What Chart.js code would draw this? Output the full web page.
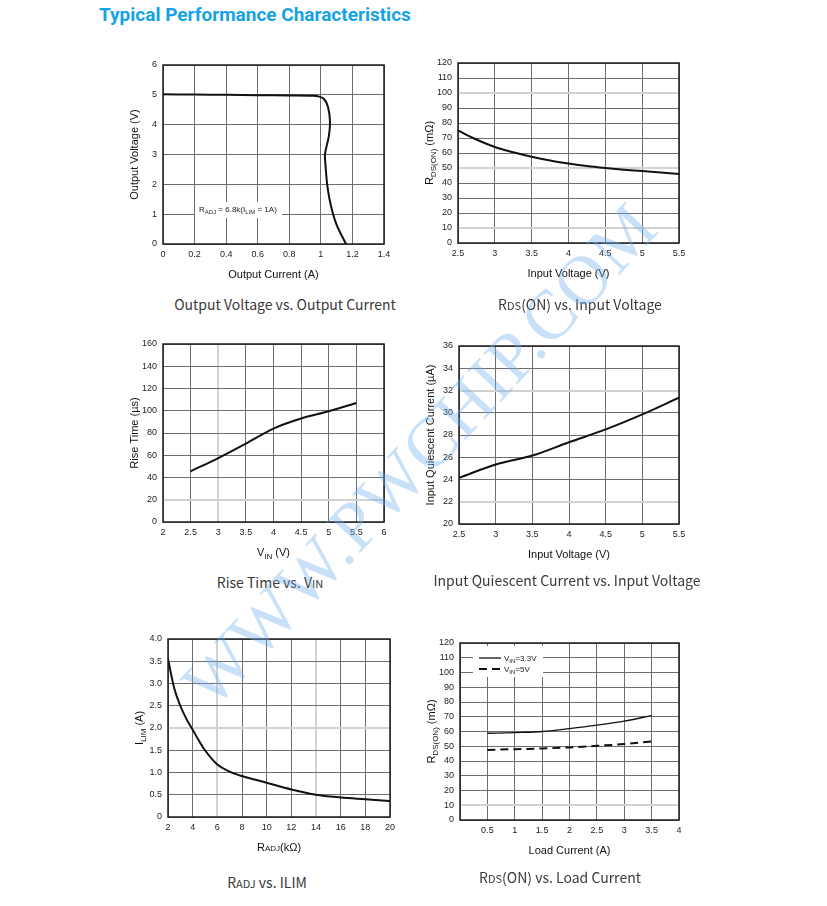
<!DOCTYPE html>
<html>
<head>
<meta charset="utf-8">
<script src="https://cdn.jsdelivr.net/npm/chart.js@4.4.1/dist/chart.umd.min.js"></script>
<style>
  body { margin: 0; background: #fff; width: 827px; height: 906px; position: relative; overflow: hidden; }
  canvas { position: absolute; }
  #title { position: absolute; left: 99px; top: 3px; font: bold 19px Roboto, "Noto Sans", sans-serif; color: #16a2e6; white-space: nowrap; }
  .cap { position: absolute; transform: translateX(-50%); white-space: nowrap; font: 14px/20px "Noto Sans CJK SC", "Noto Sans", sans-serif; color: #3a3a3a; }
  .cap small { font-size: 11px; }
  #wm { position: absolute; left: 420px; top: 455px; transform: translate(-50%, -50%) rotate(-47deg); font: 70px "Liberation Serif", serif; color: rgba(110, 175, 240, 0.38); white-space: nowrap; letter-spacing: 1px; pointer-events: none; }
</style>
</head>
<body>
<div id="title">Typical Performance Characteristics</div>

<canvas id="c1"></canvas>
<canvas id="c2"></canvas>
<canvas id="c3"></canvas>
<canvas id="c4"></canvas>
<canvas id="c5"></canvas>
<canvas id="c6"></canvas>

<div class="cap" style="left:285px;top:294px">Output Voltage vs. Output Current</div>
<div class="cap" style="left:580px;top:294px">R<small>DS</small>(ON) vs. Input Voltage</div>
<div class="cap" style="left:270px;top:572px">Rise Time vs. V<small>IN</small></div>
<div class="cap" style="left:567px;top:570px">Input Quiescent Current vs. Input Voltage</div>
<div class="cap" style="left:267px;top:872px">R<small>ADJ</small> vs. ILIM</div>
<div class="cap" style="left:560px;top:867px">R<small>DS</small>(ON) vs. Load Current</div>

<div id="wm">WWW.PWCHIP.COM</div>

<script>
// Output Voltage vs. Output Current (curve folds back, so x/y pairs)
var outCurrent = [0, 0.2, 0.4, 0.6, 0.8, 0.95, 0.99, 1.02, 1.045, 1.058, 1.05, 1.035, 1.026, 1.03, 1.04, 1.055, 1.075, 1.1, 1.13, 1.16];
var outVoltage = [5.02, 5.01, 5.0, 4.99, 4.98, 4.97, 4.94, 4.86, 4.6, 4.1, 3.6, 3.25, 3.0, 2.6, 2.0, 1.5, 1.05, 0.64, 0.3, 0.0];

// RDS(ON) vs. Input Voltage
var rdsVin = [2.5, 2.75, 3, 3.25, 3.5, 3.75, 4, 4.25, 4.5, 4.75, 5, 5.25, 5.5];
var rdsVinOhm = [75, 69, 64, 60.5, 57.5, 55, 53, 51.3, 50, 48.9, 48, 47, 46];

// Rise Time vs. VIN
var riseVin = [2.5, 3, 3.5, 4, 4.5, 5, 5.5];
var riseTime = [45.5, 57.5, 70.5, 84, 93, 99.5, 107];

// Input Quiescent Current vs. Input Voltage
var iqVin = [2.5, 3, 3.5, 4, 4.5, 5, 5.5];
var iqCurrent = [24.15, 25.35, 26.15, 27.35, 28.5, 29.85, 31.35];

// RADJ vs. ILIM
var radj = [2, 2.5, 3, 3.5, 4, 4.5, 5, 6, 7, 8, 10, 12, 14, 16, 18, 20];
var ilim = [3.55, 2.9, 2.5, 2.2, 1.96, 1.72, 1.5, 1.18, 1.02, 0.92, 0.77, 0.62, 0.5, 0.44, 0.4, 0.36];

// RDS(ON) vs. Load Current
var loadCurrent = [0.5, 1, 1.5, 2, 2.5, 3, 3.5];
var rdsVin33 = [58.8, 59.3, 60, 62, 64.3, 67, 70.8];
var rdsVin5 = [47.5, 48, 48.5, 49.2, 50.3, 51.5, 53.3];

// plot boxes (px) of each panel
var boxes = {
  c1: { x0: 163, y0: 65, x1: 384, y1: 244 },
  c2: { x0: 458, y0: 63, x1: 679, y1: 243 },
  c3: { x0: 163, y0: 344, x1: 384, y1: 522 },
  c4: { x0: 459, y0: 346, x1: 679, y1: 524 },
  c5: { x0: 168, y0: 639, x1: 390, y1: 817 },
  c6: { x0: 460, y0: 643, x1: 679, y1: 820 }
};
var PAD_L = 60, PAD_T = 12, PAD_R = 22, PAD_B = 50;

var FONT = '"Liberation Sans", Arial, sans-serif';

function pts(xs, ys) {
  return xs.map(function (x, i) { return { x: x, y: ys[i] }; });
}

function drawRich(ctx, segs, x, y, size, align) {
  var parts = segs.map(function (s) {
    var fs = s.small ? Math.round(size * 0.7) : size;
    ctx.font = fs + 'px ' + FONT;
    return { t: s.t, fs: fs, dy: s.sub ? size * 0.25 : 0, w: ctx.measureText(s.t).width };
  });
  var total = parts.reduce(function (a, p) { return a + p.w; }, 0);
  var cx = align === 'left' ? x : x - total / 2;
  ctx.textAlign = 'left';
  ctx.textBaseline = 'alphabetic';
  parts.forEach(function (p) {
    ctx.font = p.fs + 'px ' + FONT;
    ctx.fillText(p.t, cx, y + p.dy);
    cx += p.w;
  });
}

// per panel titles, note, legend
var extras = {
  c1: {
    yTitle: [{ t: 'Output Voltage (V)' }],
    xTitle: [{ t: 'Output Current (A)' }],
    note: [{ t: 'R' }, { t: 'ADJ', small: true, sub: true }, { t: ' = 6.8k(I' }, { t: 'LIM', small: true, sub: true }, { t: ' = 1A)' }]
  },
  c2: {
    yTitle: [{ t: 'R' }, { t: 'DS(ON)', small: true, sub: true }, { t: ' (m\u03A9)' }],
    xTitle: [{ t: 'Input Voltage (V)' }]
  },
  c3: {
    yTitle: [{ t: 'Rise Time (\u00B5s)' }],
    xTitle: [{ t: 'V' }, { t: 'IN', small: true, sub: true }, { t: ' (V)' }]
  },
  c4: {
    yTitle: [{ t: 'Input Quiescent Current (\u00B5A)' }],
    xTitle: [{ t: 'Input Voltage (V)' }]
  },
  c5: {
    yTitle: [{ t: 'I' }, { t: 'LIM', small: true, sub: true }, { t: ' (A)' }],
    xTitle: [{ t: 'R' }, { t: 'ADJ', small: true }, { t: '(k\u03A9)' }]
  },
  c6: {
    yTitle: [{ t: 'R' }, { t: 'DS(ON)', small: true, sub: true }, { t: ' (m\u03A9)' }],
    xTitle: [{ t: 'Load Current (A)' }],
    legend: [
      { segs: [{ t: 'V' }, { t: 'IN', small: true, sub: true }, { t: '=3.3V' }], dash: [], width: 1.3 },
      { segs: [{ t: 'V' }, { t: 'IN', small: true, sub: true }, { t: '=5V' }], dash: [8, 5], width: 2 }
    ]
  }
};

var extrasPlugin = {
  id: 'extras',
  beforeDatasetsDraw: function (chart) {
    var ctx = chart.ctx, a = chart.chartArea, ex = extras[chart.canvas.id];
    ctx.save();
    ctx.strokeStyle = '#1e1e1e';
    ctx.lineWidth = 1.5;
    ctx.strokeRect(a.left, a.top, a.right - a.left, a.bottom - a.top);
    ctx.fillStyle = '#222';
    if (ex.note) {
      ctx.fillStyle = '#fff';
      ctx.fillRect(a.left + 32, a.top + 137, 87, 16);
      ctx.fillStyle = '#222';
      drawRich(ctx, ex.note, a.left + 36, a.top + 146.5, 8, 'left');
    }
    if (ex.legend) {
      ctx.fillStyle = '#fff';
      ctx.fillRect(a.left + 13, a.top + 3, 70, 31);
      ex.legend.forEach(function (item, i) {
        var y = a.top + 15 + i * 11;
        ctx.strokeStyle = '#111';
        ctx.lineWidth = item.width;
        ctx.setLineDash(item.dash);
        ctx.beginPath();
        ctx.moveTo(a.left + 19, y);
        ctx.lineTo(a.left + 41, y);
        ctx.stroke();
        ctx.setLineDash([]);
        ctx.fillStyle = '#222';
        drawRich(ctx, item.segs, a.left + 44, y + 3, 8, 'left');
      });
    }
    ctx.restore();
  },
  afterDraw: function (chart) {
    var ctx = chart.ctx, a = chart.chartArea, ex = extras[chart.canvas.id];
    ctx.save();
    ctx.fillStyle = '#111';
    drawRich(ctx, ex.xTitle, (a.left + a.right) / 2, a.bottom + 34, 11, 'center');
    ctx.translate(a.left - 29, (a.top + a.bottom) / 2);
    ctx.rotate(-Math.PI / 2);
    drawRich(ctx, ex.yTitle, 0, 4, 11, 'center');
    ctx.restore();
  }
};

function near(list, v) {
  return list.some(function (l) { return Math.abs(l - v) < 1e-6; });
}

function axis(min, max, step, light, isX, fmt) {
  return {
    type: 'linear',
    min: min,
    max: max,
    border: { display: false },
    grid: {
      drawTicks: false,
      color: function (c) { return near(light, c.tick.value) ? '#d2d2d2' : '#6e6e6e'; },
      lineWidth: function (c) { return near(light, c.tick.value) ? 2 : 1; }
    },
    ticks: {
      stepSize: step,
      autoSkip: false,
      maxRotation: 0,
      padding: isX ? 5 : 6,
      color: '#222',
      font: { family: FONT, size: 9 },
      callback: fmt || function (v) { return String(Math.round(v * 100) / 100); }
    },
    afterFit: function (s) {
      if (isX) s.height = PAD_B; else s.width = PAD_L;
    }
  };
}

function makeChart(id, datasets, xAxis, yAxis) {
  var b = boxes[id];
  var cv = document.getElementById(id);
  cv.width = b.x1 - b.x0 + PAD_L + PAD_R;
  cv.height = b.y1 - b.y0 + PAD_T + PAD_B;
  cv.style.left = (b.x0 - PAD_L) + 'px';
  cv.style.top = (b.y0 - PAD_T) + 'px';
  return new Chart(cv.getContext('2d'), {
    type: 'scatter',
    data: { datasets: datasets },
    options: {
      responsive: false,
      animation: false,
      devicePixelRatio: 1,
      layout: { padding: { top: PAD_T, right: PAD_R, left: 0, bottom: 0 } },
      plugins: { legend: { display: false }, tooltip: { enabled: false } },
      scales: { x: xAxis, y: yAxis }
    },
    plugins: [extrasPlugin]
  });
}

function line(data, opts) {
  var ds = {
    data: data,
    showLine: true,
    pointRadius: 0,
    borderColor: '#111',
    borderWidth: 2,
    cubicInterpolationMode: 'monotone',
    fill: false
  };
  for (var k in opts) ds[k] = opts[k];
  return ds;
}

makeChart('c1',
  [line(pts(outCurrent, outVoltage), { cubicInterpolationMode: 'default', tension: 0.35 })],
  axis(0, 1.4, 0.2, [], true),
  axis(0, 6, 1, [], false));

makeChart('c2',
  [line(pts(rdsVin, rdsVinOhm))],
  axis(2.5, 5.5, 0.5, [], true),
  axis(0, 120, 10, [100, 50, 10], false));

makeChart('c3',
  [line(pts(riseVin, riseTime))],
  axis(2, 6, 0.5, [3], true),
  axis(0, 160, 20, [20], false));

makeChart('c4',
  [line(pts(iqVin, iqCurrent))],
  axis(2.5, 5.5, 0.5, [], true),
  axis(20, 36, 2, [32, 22], false));

makeChart('c5',
  [line(pts(radj, ilim))],
  axis(2, 20, 2, [6, 14], true),
  axis(0, 4, 0.5, [2], false, function (v) { return v === 0 ? '0' : v.toFixed(1); }));

makeChart('c6',
  [line(pts(loadCurrent, rdsVin33), { borderWidth: 1.3 }),
   line(pts(loadCurrent, rdsVin5), { borderWidth: 2, borderDash: [8, 5] })],
  axis(0, 4, 0.5, [], true, function (v) { return v === 0 ? '' : String(v); }),
  axis(0, 120, 10, [10], false));
</script>
</body>
</html>
